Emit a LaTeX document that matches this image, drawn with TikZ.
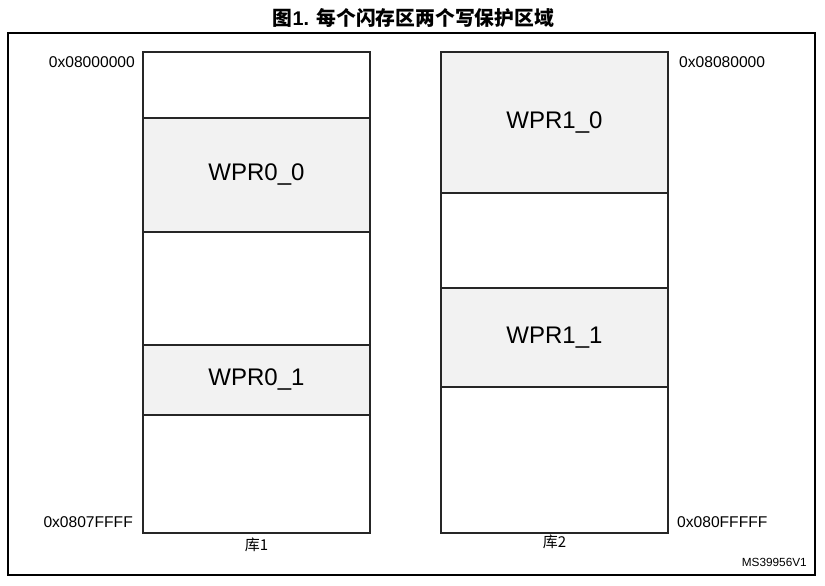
\documentclass[tikz,border=0pt]{standalone}
\usepackage{fontspec}
\setmainfont{Liberation Sans}
\newfontfamily\cjk{Noto Sans CJK SC}
\usetikzlibrary{positioning,calc}

\begin{document}
\begin{tikzpicture}[x=1pt, y=-1pt, node distance=0pt]
\tikzstyle{seg}=[draw=black!85,line width=1.2pt,fill=white,minimum width=227pt,inner sep=0pt,outer sep=0pt,font=\fontsize{24}{26}\selectfont]
\tikzstyle{wpr}=[seg,fill=black!5]
\tikzstyle{addr}=[inner sep=0pt,font=\fontsize{15.6}{18}\selectfont]
\tikzstyle{bank}=[inner sep=0pt,font=\cjk\fontsize{15}{18}\selectfont]

\useasboundingbox (0,0) rectangle (825,586);
\draw[line width=1.2pt] (8,33) rectangle (815,575);

\node[inner sep=0pt] (title) at (413.5,18) {\fontsize{19.8}{22}\selectfont{\cjk\bfseries 图}\textbf{1.} {\cjk\bfseries 每个闪存区两个写保护区域}};

% bank 1
\node[seg,minimum height=66pt,anchor=north] (L1) at (256.5,52) {};
\node[wpr,minimum height=114pt]  (L2)[below=of L1] {WPR0\_0};
\node[seg,minimum height=113pt]  (L3)[below=of L2] {};
\node[wpr,minimum height=70pt]   (L4)[below=of L3] {WPR0\_1};
\node[seg,minimum height=118pt]  (L5)[below=of L4] {};

% bank 2
\node[wpr,minimum height=141pt,anchor=north] (R1) at (554.5,52) {WPR1\_0};
\node[seg,minimum height=95pt]   (R2)[below=of R1] {};
\node[wpr,minimum height=99pt]   (R3)[below=of R2] {WPR1\_1};
\node[seg,minimum height=146pt]  (R4)[below=of R3] {};

% addresses
\node[addr,anchor=east] (addrL0) at ([xshift=-8pt,yshift=-10pt]L1.north west) {0x08000000};
\node[addr,anchor=east] (addrL1) at ([xshift=-10pt,yshift=11pt]L5.south west) {0x0807FFFF};
\node[addr,anchor=west] (addrR0) at ([xshift=11pt,yshift=-10pt]R1.north east) {0x08080000};
\node[addr,anchor=west] (addrR1) at ([xshift=9pt,yshift=11pt]R4.south east) {0x080FFFFF};

\node[bank] (bank1)[below=5pt of L5] {库1};
\node[bank] (bank2)[below=2pt of R4] {库2};

\node[inner sep=0pt,anchor=east,font=\fontsize{11.8}{14}\selectfont] (ref) at (807,562) {MS39956V1};

\end{tikzpicture}
\end{document}
